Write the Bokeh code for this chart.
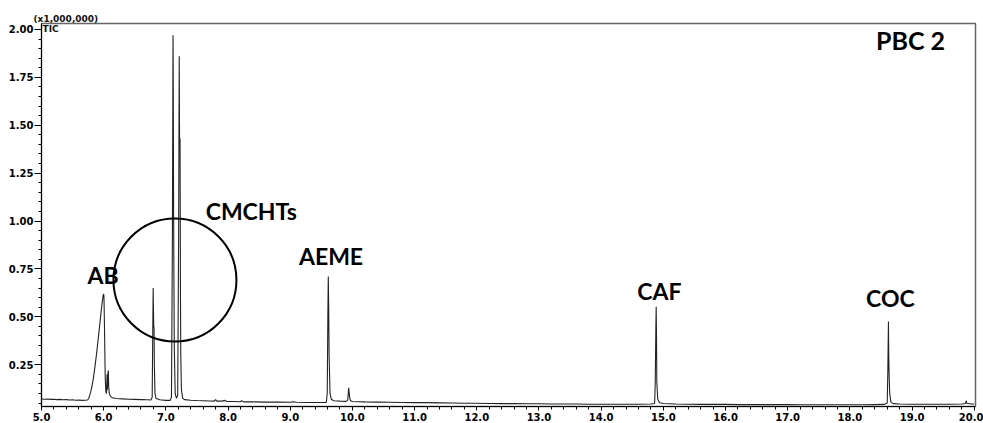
from bokeh.plotting import figure
from bokeh.models import Range1d, SingleIntervalTicker, NumeralTickFormatter, Label, ColumnDataSource
from bokeh.embed import file_html
from bokeh.resources import INLINE

# Retention time (min) and TIC intensity (x1,000,000)
rt = [5.00, 5.05, 5.10, 5.15, 5.20, 5.25, 5.30, 5.35, 5.40, 5.45, 5.50, 5.55, 5.60, 5.65, 5.70, 5.74,
      5.76, 5.78, 5.80, 5.83, 5.86, 5.89, 5.92, 5.95, 5.97, 5.99, 6.00, 6.005, 6.015, 6.025, 6.035,
      6.045, 6.055, 6.06, 6.07, 6.075, 6.08, 6.09, 6.11, 6.14, 6.2, 6.3, 6.4, 6.5, 6.6, 6.7, 6.76,
      6.78, 6.79, 6.796, 6.80, 6.805, 6.81, 6.815, 6.825, 6.84, 6.9, 7.0, 7.07, 7.09, 7.105, 7.115,
      7.118, 7.125, 7.135, 7.15, 7.17, 7.19, 7.205, 7.215, 7.22, 7.228, 7.235, 7.24, 7.25, 7.27,
      7.3, 7.4, 7.5, 7.6, 7.7, 7.78, 7.80, 7.82, 7.9, 7.95, 7.98, 8.1, 8.2, 8.22, 8.25, 8.4, 8.6,
      8.8, 9.0, 9.05, 9.1, 9.3, 9.5, 9.58, 9.595, 9.605, 9.612, 9.618, 9.625, 9.64, 9.66, 9.7, 9.8,
      9.9, 9.925, 9.94, 9.955, 9.97, 10.0, 10.2, 10.4, 10.6, 10.8, 11.0, 11.2, 11.4, 11.6, 11.8,
      12.0, 12.2, 12.4, 12.6, 12.8, 13.0, 13.2, 13.4, 13.6, 13.8, 14.0, 14.2, 14.4, 14.6, 14.8,
      14.86, 14.87, 14.88, 14.885, 14.89, 14.895, 14.91, 14.94, 15.0, 15.2, 15.4, 15.6, 15.8, 16.0,
      16.2, 16.4, 16.6, 16.8, 17.0, 17.2, 17.4, 17.6, 17.8, 18.0, 18.2, 18.4, 18.55, 18.6, 18.61,
      18.62, 18.625, 18.63, 18.64, 18.66, 18.7, 18.8, 19.0, 19.2, 19.4, 19.6, 19.8, 19.86, 19.87,
      19.88, 19.95, 20.0]
tic = [0.071, 0.070, 0.071, 0.069, 0.070, 0.068, 0.069, 0.067, 0.068, 0.066, 0.067, 0.065, 0.066, 0.064, 0.065, 0.066,
       0.075, 0.095, 0.12, 0.17, 0.24, 0.32, 0.41, 0.50, 0.56, 0.61, 0.62, 0.60, 0.40, 0.18, 0.11,
       0.10, 0.20, 0.12, 0.21, 0.22, 0.14, 0.10, 0.085, 0.078, 0.074, 0.072, 0.070, 0.069, 0.068, 0.067, 0.066,
       0.08, 0.45, 0.65, 0.55, 0.45, 0.44, 0.25, 0.10, 0.075, 0.067, 0.064, 0.064, 0.08, 0.9, 1.97,
       1.80, 1.0, 0.35, 0.10, 0.075, 0.09, 0.9, 1.86, 1.43, 1.43, 0.6, 0.30, 0.12, 0.075,
       0.068, 0.065, 0.063, 0.062, 0.061, 0.060, 0.068, 0.060, 0.060, 0.064, 0.058, 0.058, 0.057, 0.062, 0.056, 0.056, 0.055,
       0.055, 0.054, 0.057, 0.054, 0.053, 0.053, 0.053, 0.10, 0.50, 0.71, 0.56, 0.30, 0.10, 0.07, 0.062, 0.060,
       0.059, 0.065, 0.13, 0.08, 0.062, 0.058, 0.056, 0.055, 0.054, 0.053, 0.052, 0.052, 0.051, 0.050, 0.049,
       0.049, 0.048, 0.047, 0.047, 0.046, 0.046, 0.045, 0.045, 0.045, 0.044, 0.044, 0.044, 0.044, 0.044, 0.045,
       0.048, 0.16, 0.45, 0.553, 0.40, 0.16, 0.07, 0.052, 0.048, 0.045, 0.044, 0.043, 0.043, 0.043,
       0.042, 0.042, 0.042, 0.042, 0.042, 0.041, 0.041, 0.041, 0.041, 0.041, 0.041, 0.042, 0.043, 0.05, 0.21,
       0.475, 0.30, 0.21, 0.10, 0.055, 0.047, 0.045, 0.044, 0.044, 0.044, 0.044, 0.045, 0.048, 0.062,
       0.049, 0.045, 0.045]

# Peak labels
peak_names = ["AB", "CMCHTs", "AEME", "CAF", "COC"]
peak_label_x = [5.74, 7.64, 9.14, 14.58, 18.26]
peak_label_y = [0.72, 1.05, 0.815, 0.637, 0.60]

sample_name = "PBC 2"
scale_note = "(x1,000,000)"
trace_name = "TIC"

# Highlight circle around CMCHTs region
circle_rt = [7.146]
circle_tic = [0.692]

p = figure(width=983, height=423, output_backend="svg", toolbar_location=None,
           x_range=Range1d(5.0, 20.02), y_range=Range1d(0.032, 2.031),
           min_border_left=41, min_border_right=8, min_border_top=23, min_border_bottom=17)
p.background_fill_color = "white"
p.border_fill_color = "white"
p.outline_line_color = "#666666"
p.outline_line_width = 1.5
p.xgrid.visible = False
p.ygrid.visible = False

p.title.text = scale_note
p.title.align = "left"
p.title.offset = -8
p.title.standoff = 0
p.title.text_font = "DejaVu Sans"
p.title.text_font_style = "bold"
p.title.text_font_size = "9px"
p.title.text_color = "#111111"

src = ColumnDataSource(dict(rt=rt, tic=tic))
p.line("rt", "tic", source=src, line_color="#222222", line_width=1.1)

p.scatter(x=circle_rt, y=circle_tic, marker="circle", size=123, fill_color=None,
          line_color="black", line_width=2)

for ax in (p.xaxis, p.yaxis):
    ax.axis_line_color = "black"
    ax.major_tick_line_color = "black"
    ax.minor_tick_line_color = "black"
    ax.major_tick_in = 0
    ax.minor_tick_in = 0
    ax.major_label_text_font = "DejaVu Sans"
    ax.major_label_text_font_style = "bold"
    ax.major_label_text_font_size = "10px"
    ax.major_label_text_color = "#000000"

p.xaxis.ticker = SingleIntervalTicker(interval=1, num_minor_ticks=5)
p.xaxis.formatter = NumeralTickFormatter(format="0.0")
p.xaxis.major_tick_out = 4
p.xaxis.minor_tick_out = 3
p.xaxis.major_label_standoff = 2

p.yaxis.ticker = SingleIntervalTicker(interval=0.25, num_minor_ticks=5)
p.yaxis.formatter = NumeralTickFormatter(format="0.00")
p.yaxis.major_tick_out = 7
p.yaxis.minor_tick_out = 3
p.yaxis.major_label_standoff = 1

for name, lx, ly in zip(peak_names, peak_label_x, peak_label_y):
    p.add_layout(Label(x=lx, y=ly, text=name, text_font="Lato", text_font_style="bold",
                       text_font_size="23px", text_baseline="middle", text_align="left",
                       text_color="black"))

p.add_layout(Label(x=18.42, y=1.945, text=sample_name, text_font="Lato", text_font_style="bold",
                   text_font_size="25px", text_baseline="middle", text_align="left", text_color="black"))
p.add_layout(Label(x=5.016, y=2.002, text=trace_name, text_font="DejaVu Sans", text_font_style="bold",
                   text_font_size="9px", text_baseline="middle", text_align="left", text_color="#111111"))

open("out.html", "w").write(file_html(p, INLINE))
